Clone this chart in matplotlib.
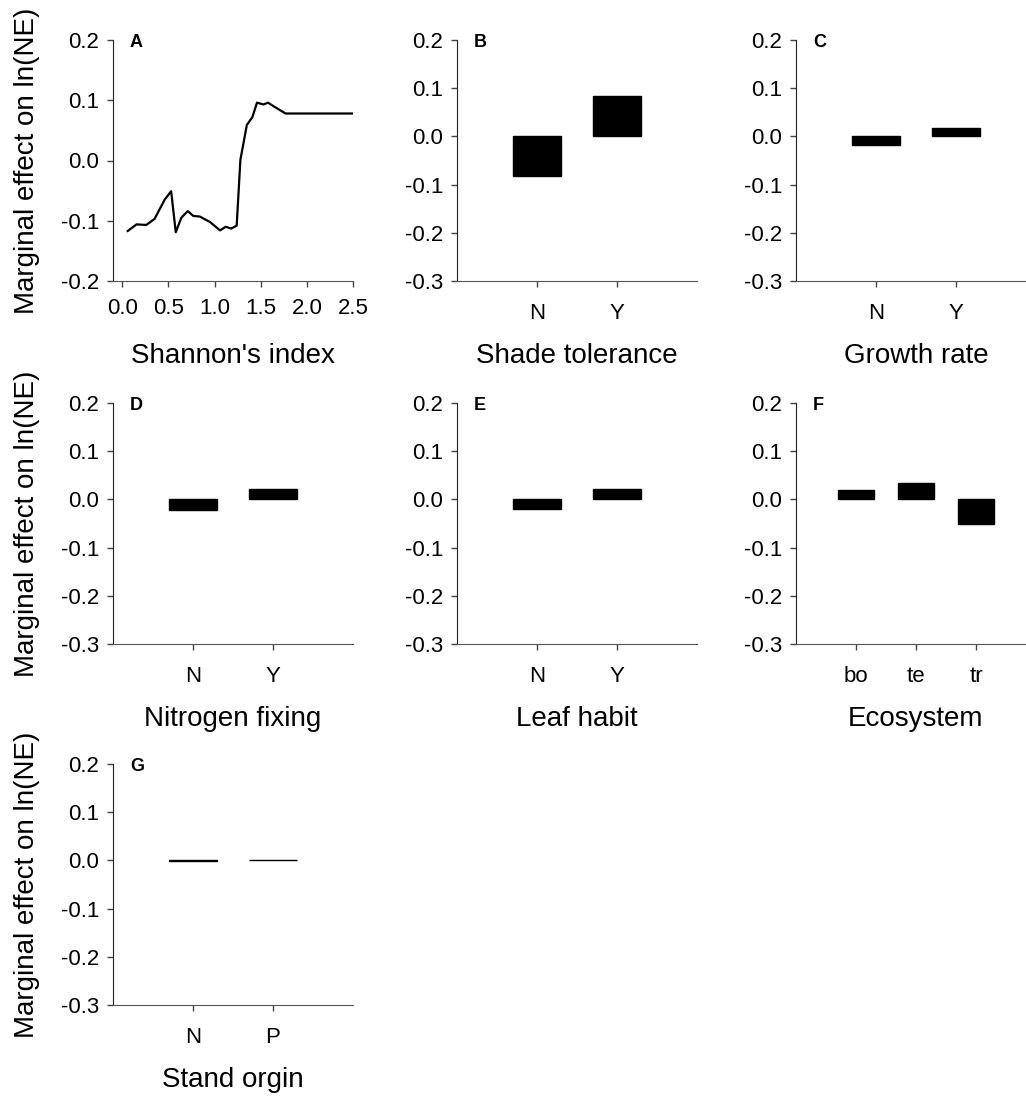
'''
marginal effects on ln(NE): one line panel and six bar panels.
'''
import matplotlib
matplotlib.use('Agg')
import matplotlib.pyplot as plt
from matplotlib.ticker import FormatStrFormatter, MultipleLocator

# data ----------------------------------------------------
shannon_x = [0.06, 0.155, 0.26, 0.35, 0.46, 0.53, 0.58, 0.64, 0.71, 0.77,
             0.84, 0.95, 1.06, 1.12, 1.18, 1.24, 1.28, 1.35, 1.41, 1.46,
             1.53, 1.58, 1.65, 1.77, 2.5]
shannon_y = [-0.117, -0.106, -0.107, -0.097, -0.065, -0.051, -0.119, -0.095,
             -0.084, -0.092, -0.093, -0.102, -0.116, -0.110, -0.113, -0.108,
             0.001, 0.059, 0.072, 0.096, 0.093, 0.096, 0.089, 0.078, 0.078]

yn_labels = ['N', 'Y']
shade_vals = [-0.083, 0.084]
growth_vals = [-0.017, 0.018]
nfix_vals = [-0.021, 0.022]
leaf_vals = [-0.020, 0.021]

eco_labels = ['bo', 'te', 'tr']
eco_vals = [0.020, 0.033, -0.050]

origin_labels = ['N', 'P']
origin_vals = [-0.0015, 0.0015]

# style ---------------------------------------------------
plt.rcParams['font.family'] = ['Liberation Sans', 'DejaVu Sans']
plt.rcParams['axes.unicode_minus'] = False

W, H = 1026, 1099
fig = plt.figure(figsize=(W / 100, H / 100), dpi=100)

col_left = [113, 457, 796]
row_top = [40, 403, 764]
ax_w, ax_h = 240, 241
ylab = 'Marginal effect on ln(NE)'


def make_axes(row, col):
    left = col_left[col] / W
    bottom = 1 - (row_top[row] + ax_h) / H
    ax = fig.add_axes([left, bottom, ax_w / W, ax_h / H])
    ax.spines['top'].set_visible(False)
    ax.spines['right'].set_visible(False)
    ax.spines['left'].set_color('#222222')
    ax.spines['bottom'].set_color('#555555')
    ax.tick_params(direction='out', length=4, width=1, labelsize=16,
                   color='#444444', pad=6)
    ax.yaxis.set_major_formatter(FormatStrFormatter('%.1f'))
    ax.yaxis.set_major_locator(MultipleLocator(0.1))
    if col == 0:
        ax.set_ylabel(ylab, fontsize=20, va='center')
        ax.yaxis.set_label_coords(-86 / ax_w, 0.5)
    return ax


def finish(ax, letter, xlabel):
    ax.text(0.07, 0.99, letter, transform=ax.transAxes, fontsize=13,
            fontweight='bold', ha='left', va='center')
    ax.set_xlabel(xlabel, fontsize=20, va='center')
    ax.xaxis.set_label_coords(0.5, -75 / ax_h)


def bar_panel(row, col, letter, labels, vals, xlabel):
    ax = make_axes(row, col)
    pos = list(range(1, len(labels) + 1))
    ax.bar(pos, vals, width=0.6, color='black', edgecolor='black',
           linewidth=1)
    ax.set_xlim(0, len(labels) + 1)
    ax.set_ylim(-0.3, 0.2)
    ax.set_xticks(pos)
    ax.set_xticklabels(labels)
    ax.tick_params('x', pad=12)
    finish(ax, letter, xlabel)
    return ax


# panel A -------------------------------------------------
ax = make_axes(0, 0)
ax.plot(shannon_x, shannon_y, color='black', lw=1.6)
ax.set_xlim(-0.1, 2.5)
ax.set_ylim(-0.2, 0.2)
ax.set_xticks([0.0, 0.5, 1.0, 1.5, 2.0, 2.5])
ax.xaxis.set_major_formatter(FormatStrFormatter('%.1f'))
ax.tick_params('x', pad=8)
finish(ax, 'A', "Shannon's index")

# bar panels ----------------------------------------------
bar_panel(0, 1, 'B', yn_labels, shade_vals, 'Shade tolerance')
bar_panel(0, 2, 'C', yn_labels, growth_vals, 'Growth rate')
bar_panel(1, 0, 'D', yn_labels, nfix_vals, 'Nitrogen fixing')
bar_panel(1, 1, 'E', yn_labels, leaf_vals, 'Leaf habit')
bar_panel(1, 2, 'F', eco_labels, eco_vals, 'Ecosystem')
bar_panel(2, 0, 'G', origin_labels, origin_vals, 'Stand orgin')

plt.savefig('out.png', dpi=100)
